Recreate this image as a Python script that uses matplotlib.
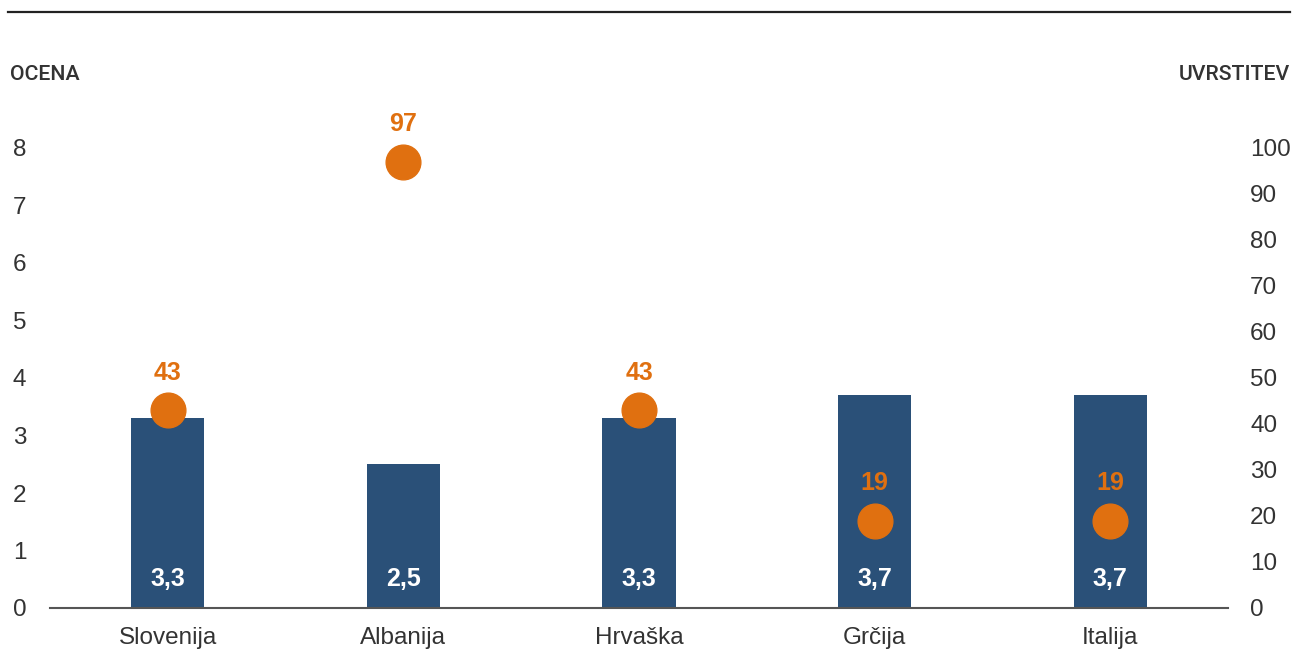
import matplotlib
matplotlib.use("Agg")
import matplotlib.pyplot as plt
from matplotlib.lines import Line2D

# Ocena (left axis, bars) and uvrstitev (right axis, dots) per country
countries = ["Slovenija", "Albanija", "Hrvaška", "Grčija", "Italija"]
ocena = [3.3, 2.5, 3.3, 3.7, 3.7]
uvrstitev = [43, 97, 43, 19, 19]
ocena_labels = ["3,3", "2,5", "3,3", "3,7", "3,7"]

BAR_COLOR = "#2a5078"
DOT_COLOR = "#e07010"
TEXT_COLOR = "#333333"

plt.rcParams["font.family"] = ["Liberation Sans", "DejaVu Sans"]

W, H = 1295, 650
fig = plt.figure(figsize=(W / 100, H / 100), dpi=100)
left, right, bottom, top = 50, 1228, 608, 148
ax = fig.add_axes([left / W, 1 - bottom / H, (right - left) / W, (bottom - top) / H])

x = list(range(len(countries)))
ax.bar(x, ocena, width=0.31, color=BAR_COLOR, zorder=2)
ax.set_xlim(-0.5, 4.5)
ax.set_ylim(0, 8)
ax.set_yticks(range(0, 9))
ax.set_xticks(x)
ax.set_xticklabels(countries)
for s in ["left", "right", "top"]:
    ax.spines[s].set_visible(False)
ax.spines["bottom"].set_color("#555555")
ax.spines["bottom"].set_linewidth(1.5)
ax.tick_params(axis="both", length=0, labelsize=17.5, colors=TEXT_COLOR)
ax.tick_params(axis="y", pad=17)
ax.tick_params(axis="x", pad=14)

for xi, lab in zip(x, ocena_labels):
    ax.text(xi, 0.5, lab, ha="center", va="center", color="white",
            fontsize=18, fontweight="bold", zorder=3)

ax2 = ax.twinx()
ax2.set_ylim(0, 100)
ax2.set_yticks(range(0, 101, 10))
for s in ["left", "right", "top", "bottom"]:
    ax2.spines[s].set_visible(False)
ax2.tick_params(axis="y", length=0, labelsize=17.5, colors=TEXT_COLOR, pad=16)
ax2.plot(x, uvrstitev, "o", color=DOT_COLOR, markersize=25, linestyle="none",
         clip_on=False, zorder=4)
for xi, v in zip(x, uvrstitev):
    ax2.annotate(str(v), (xi, v), xytext=(0, 27), textcoords="offset points",
                 ha="center", va="center", color=DOT_COLOR, fontsize=18,
                 fontweight="bold", annotation_clip=False)

fig.text(10 / W, 1 - 75 / H, "OCENA", ha="left", va="center", fontsize=15.3,
         family="Roboto", fontweight="medium", color=TEXT_COLOR)
fig.text(1290 / W, 1 - 75 / H, "UVRSTITEV", ha="right", va="center", fontsize=15.3,
         family="Roboto", fontweight="medium", color=TEXT_COLOR)

fig.add_artist(Line2D([8 / W, 1290 / W], [1 - 12 / H, 1 - 12 / H],
                      color="#222222", linewidth=1.6))

fig.savefig("out.png", dpi=100)
